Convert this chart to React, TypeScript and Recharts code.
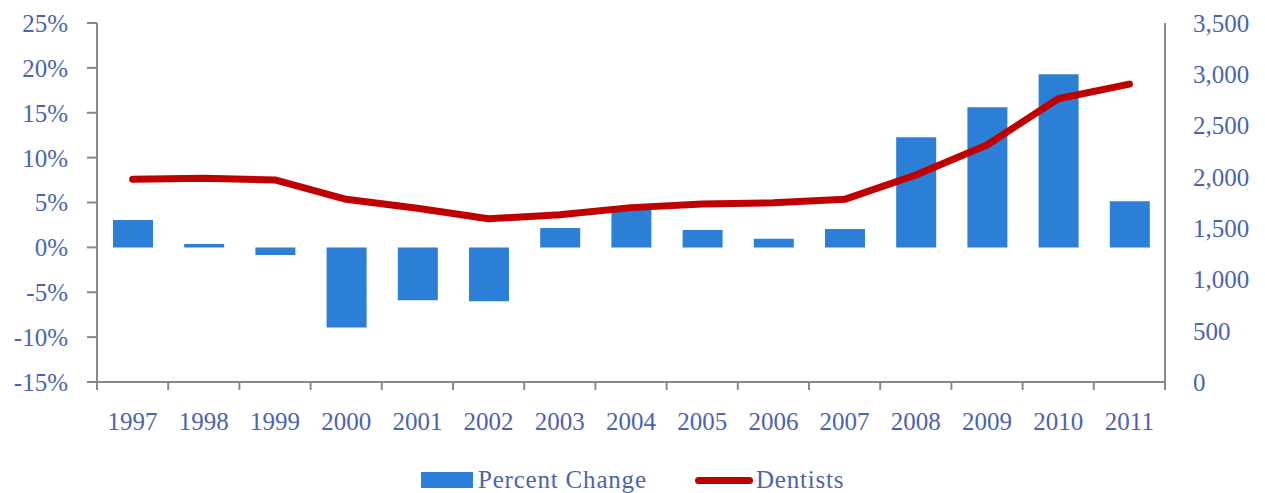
import React from 'react';
import { ComposedChart, Bar, Line, XAxis, YAxis, Legend } from 'recharts';

const years = ['1997', '1998', '1999', '2000', '2001', '2002', '2003', '2004', '2005', '2006', '2007', '2008', '2009', '2010', '2011'];
const percentChange = [3.05, 0.37, -0.86, -8.93, -5.9, -6.0, 2.15, 4.4, 1.93, 0.96, 2.04, 12.28, 15.6, 19.3, 5.13];
const dentists = [1977, 1986, 1970, 1781, 1693, 1592, 1630, 1700, 1735, 1748, 1781, 2018, 2311, 2761, 2904];
const leftTicks = [-15, -10, -5, 0, 5, 10, 15, 20, 25];
const rightTicks = [0, 500, 1000, 1500, 2000, 2500, 3000, 3500];

const data = years.map((year, i) => ({
  year,
  change: percentChange[i],
  dentists: dentists[i],
}));

const WIDTH = 1265;
const HEIGHT = 493;
const LEFT_W = 97;
const RIGHT_W = 100;
const BAND = (WIDTH - LEFT_W - RIGHT_W) / years.length;

const FONT = "'Palatino Linotype', 'Book Antiqua', Palatino, 'Liberation Serif', serif";
const TEXT = '#4b63b0';
const AXIS = '#898989';
const BAR = '#2b7fd6';
const LINE = '#c00000';

const YearTick = (props: any) => {
  const { x, y, payload, index } = props;
  const axisY = y - 8 - 22;
  return (
    <g>
      <line x1={x - BAND / 2} x2={x - BAND / 2} y1={axisY} y2={axisY + 8} stroke={AXIS} strokeWidth={2} />
      {index === years.length - 1 && (
        <line x1={x + BAND / 2} x2={x + BAND / 2} y1={axisY} y2={axisY + 8} stroke={AXIS} strokeWidth={2} />
      )}
      <text x={x} y={y} dy="0.71em" textAnchor="middle" fill={TEXT} fontSize={25} fontFamily={FONT}>
        {payload.value}
      </text>
    </g>
  );
};

// legend laid out to follow the original's spacing
const LegendContent = () => (
  <div
    style={{
      display: 'flex',
      alignItems: 'center',
      height: 30,
      paddingTop: 4,
      paddingLeft: 421,
      boxSizing: 'border-box',
      fontFamily: FONT,
      fontSize: 25,
      letterSpacing: 0.8,
      color: TEXT,
    }}
  >
    <span style={{ display: 'inline-block', width: 52, height: 16, background: BAR, marginRight: 5 }} />
    <span style={{ display: 'inline-block', width: 185 }}>Percent Change</span>
    <span
      style={{
        display: 'inline-block',
        width: 58,
        height: 7,
        borderRadius: 4,
        background: LINE,
        marginLeft: 32,
        marginRight: 3,
      }}
    />
    <span>Dentists</span>
  </div>
);

export default function App() {
  return (
    <div style={{ position: 'absolute', left: 0, top: 0, background: '#fff' }}>
      <ComposedChart
        width={WIDTH}
        height={HEIGHT}
        data={data}
        margin={{ top: 23, right: 0, left: 0, bottom: 31 }}
        barSize={40}
      >
        <XAxis
          dataKey="year"
          xAxisId="x"
          height={50}
          axisLine={{ stroke: AXIS, strokeWidth: 2 }}
          tickLine={false}
          tickSize={8}
          tickMargin={22}
          interval={0}
          tick={<YearTick />}
        />
        <YAxis
          yAxisId="left"
          orientation="left"
          width={LEFT_W}
          domain={[-15, 25]}
          ticks={leftTicks}
          interval={0}
          tickFormatter={(v: number) => `${v}%`}
          axisLine={{ stroke: AXIS, strokeWidth: 2 }}
          tickLine={{ stroke: AXIS, strokeWidth: 2 }}
          tickSize={10}
          tickMargin={19}
          tick={{ fill: TEXT, fontSize: 25, fontFamily: FONT }}
        />
        <YAxis
          yAxisId="right"
          orientation="right"
          width={RIGHT_W}
          domain={[0, 3500]}
          ticks={rightTicks}
          interval={0}
          tickFormatter={(v: number) => v.toLocaleString('en-US')}
          axisLine={{ stroke: AXIS, strokeWidth: 2 }}
          tickLine={false}
          tickSize={0}
          tickMargin={28}
          tick={{ fill: TEXT, fontSize: 25, fontFamily: FONT }}
        />
        <Legend
          verticalAlign="bottom"
          content={<LegendContent />}
          wrapperStyle={{ bottom: 0, left: 0, width: WIDTH, height: 30 }}
        />
        <Bar
          dataKey="change"
          name="Percent Change"
          xAxisId="x"
          yAxisId="left"
          fill={BAR}
          isAnimationActive={false}
        />
        <Line
          dataKey="dentists"
          name="Dentists"
          xAxisId="x"
          yAxisId="right"
          type="linear"
          stroke={LINE}
          strokeWidth={7}
          strokeLinecap="round"
          strokeLinejoin="round"
          dot={false}
          activeDot={false}
          isAnimationActive={false}
        />
      </ComposedChart>
    </div>
  );
}
